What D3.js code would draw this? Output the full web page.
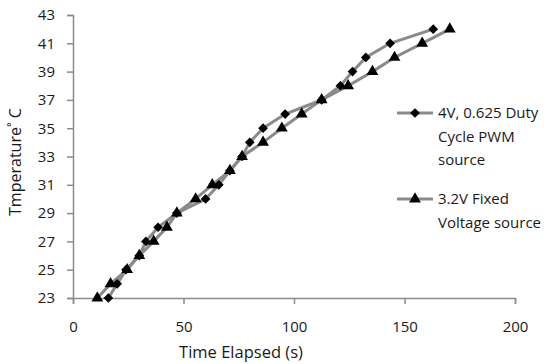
<!DOCTYPE html>
<html><head><meta charset="utf-8">
<script src="https://cdn.jsdelivr.net/npm/d3@7"></script>
<style>body{margin:0;background:#fff}svg{display:block}text{font-family:"Open Sans",sans-serif;fill:#1a1a1a}</style>
</head><body><svg id="c" width="552" height="364"></svg>
<script>
const temps = [23,24,25,26,27,28,29,30,31,32,33,34,35,36,37,38,39,40,41,42];
const pwmTimes = [16,20,24,30,33,38.5,47,60,66,71,76.5,80,86,96,112.5,121,126.5,132.5,143.5,163];
const fixedTimes = [11,17,24.5,30,36.5,42.5,47,55.5,63,71,76.5,86,94.5,103.5,112.5,124.5,135.5,145.5,158,170.5];
const xTicks = [0,50,100,150,200];
const yTicks = [23,25,27,29,31,33,35,37,39,41,43];
const seriesNames = [["4V, 0.625 Duty","Cycle PWM","source"],["3.2V Fixed","Voltage source"]];

const svg = d3.select("#c");
const x = d3.scaleLinear().domain([0,200]).range([73,515]);
const y = d3.scaleLinear().domain([23,43]).range([298,15]);
const axisColor = "#8c8c8c";

const ya = svg.append("g").attr("transform","translate(73,0)")
  .call(d3.axisLeft(y).tickValues(yTicks).tickSize(6).tickPadding(12).tickFormat(d3.format("d")));
const xa = svg.append("g").attr("transform","translate(0,298)")
  .call(d3.axisBottom(x).tickValues(xTicks).tickSize(6).tickPadding(17).tickFormat(d3.format("d")));
[ya,xa].forEach(g=>{
  g.select(".domain").attr("stroke",axisColor).attr("stroke-width",1.5);
  g.selectAll(".tick line").attr("stroke",axisColor).attr("stroke-width",1.5);
  g.selectAll("text").style("font-family","'Open Sans',sans-serif").style("font-size","15px").attr("fill","#1a1a1a");
});

const line = d3.line().x(d=>x(d[0])).y(d=>y(d[1]));
const pwm = pwmTimes.map((t,i)=>[t,temps[i]]);
const fixed = fixedTimes.map((t,i)=>[t,temps[i]]);

const lineColor = "#8a8a8a";
[pwm,fixed].forEach(d=>{
  svg.append("path").datum(d).attr("d",line).attr("fill","none")
    .attr("stroke",lineColor).attr("stroke-width",3);
});
const diamond = d3.symbol().type(d3.symbolDiamond2).size(60);
const tri = d3.symbol().type(d3.symbolTriangle).size(60);
svg.append("g").selectAll("path").data(pwm).join("path")
  .attr("d",diamond).attr("transform",d=>`translate(${x(d[0])},${y(d[1])})`).attr("fill","#000");
svg.append("g").selectAll("path").data(fixed).join("path")
  .attr("d",tri).attr("transform",d=>`translate(${x(d[0])},${y(d[1])})`).attr("fill","#000");

// legend
const leg = svg.append("g");
const legY = [113,199];
const syms = [diamond,tri];
seriesNames.forEach((lines,i)=>{
  leg.append("line").attr("x1",397).attr("x2",433).attr("y1",legY[i]).attr("y2",legY[i])
    .attr("stroke",lineColor).attr("stroke-width",3);
  leg.append("path").attr("d",syms[i]).attr("transform",`translate(415,${legY[i]})`).attr("fill","#000");
  lines.forEach((s,j)=>{
    leg.append("text").attr("x",438).attr("y",legY[i]+j*23.5).attr("dy","0.35em")
      .style("font-size","15px").attr("textLength",null).text(s);
  });
});

svg.append("text").attr("x",241).attr("y",352).attr("dy","0.35em").attr("text-anchor","middle")
  .style("font-size","16.5px").text("Time Elapsed (s)");
svg.append("text").attr("transform","translate(15,162) rotate(-90)").attr("dy","0.35em")
  .attr("text-anchor","middle").style("font-size","16px").text("Tmperature˚ C");
</script></body></html>
